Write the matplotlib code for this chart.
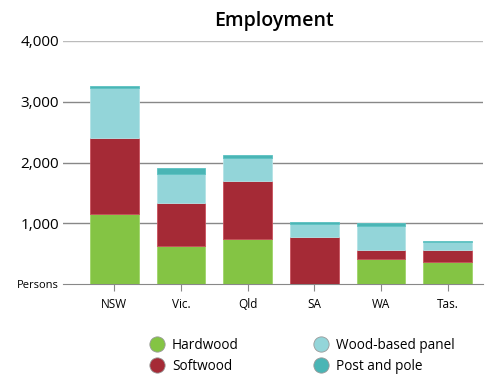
import matplotlib.pyplot as plt
import numpy as np
from matplotlib.lines import Line2D

plt.rcParams['font.family'] = ['Open Sans', 'DejaVu Sans']

states = ['NSW', 'Vic.', 'Qld', 'SA', 'WA', 'Tas.']
hardwood = [1150, 630, 740, 0, 415, 365]
softwood = [1260, 700, 950, 775, 150, 200]
panel = [820, 475, 390, 215, 395, 125]
post_pole = [30, 110, 50, 35, 50, 20]

series_names = ['Hardwood', 'Softwood', 'Wood-based panel', 'Post and pole']
colors = ['#84c444', '#a52a36', '#93d5d9', '#4ab5b5']
edges = ['#9fd46a', '#c9505d', '#b3e3e6', '#5cc2c2']

fig = plt.figure(figsize=(5.03, 3.88), dpi=100)
ax = fig.add_axes([63/503, 1-284/388, 420/503, 243/388])

x = np.arange(len(states))
bottom = np.zeros(len(states))
for vals, c, e in zip([hardwood, softwood, panel, post_pole], colors, edges):
    ax.bar(x, vals, bottom=bottom, width=0.73, color=c, edgecolor=e, linewidth=0.6, zorder=3)
    bottom += np.array(vals)

ax.set_xlim(-0.77, 5.53)
ax.set_ylim(0, 4000)
yt = [0, 1000, 2000, 3000, 4000]
ax.set_yticks(yt)
ax.set_yticklabels(['Persons', '1,000', '2,000', '3,000', '4,000'])
for i, lab in enumerate(ax.get_yticklabels()):
    lab.set_fontsize(8 if i == 0 else 11)
ax.tick_params(axis='y', length=0, pad=3)
ax.set_xticks(x)
ax.set_xticklabels(states, fontsize=8.5)
ax.tick_params(axis='x', length=5, color='#888888', pad=5)

for v in yt[1:]:
    ax.axhline(v, color='#bbbbbb' if v == 4000 else '#888888', linewidth=1.0, zorder=1)
for s in ['top', 'right', 'left']:
    ax.spines[s].set_visible(False)
ax.spines['bottom'].set_color('#888888')

fig.text(0.545, 0.947, 'Employment', ha='center', va='center', fontsize=14, fontweight='semibold')

handles = [Line2D([], [], marker='o', linestyle='', markersize=11, markerfacecolor=c,
                  markeredgecolor='#999999', markeredgewidth=0.6) for c in colors]
fig.legend(handles, series_names, ncol=2,
           loc='center', bbox_to_anchor=(0.594, 0.083), frameon=False, fontsize=9.8,
           handletextpad=0.1, columnspacing=5.0, labelspacing=0.45)

fig.savefig('out.png', dpi=100)
